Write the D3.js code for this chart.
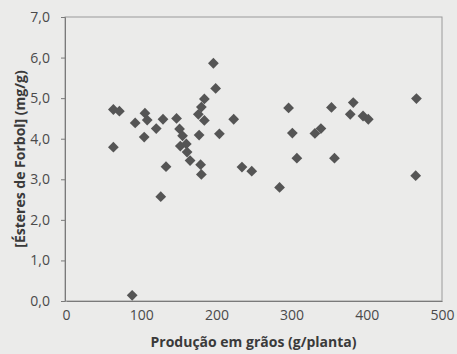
<!DOCTYPE html>
<html><head><meta charset="utf-8">
<script src="https://cdn.jsdelivr.net/npm/d3@7"></script>
<style>
html,body{margin:0;padding:0;background:#ebebea;}
svg{display:block;}
</style></head>
<body>
<svg id="c" width="457" height="354"></svg>
<script>
// Data
const producao = [63,71,63,92,105,108,104,120,129,133,147,151,155,152,160,161,165,179,180,177,176,180,184,184,199,196,204,223,234,247,284,296,301,307,331,339,353,357,378,382,395,402,466,465,126,88];
const esteres  = [4.72,4.68,3.79,4.39,4.63,4.46,4.04,4.25,4.48,3.31,4.50,4.24,4.07,3.82,3.87,3.67,3.46,3.36,3.12,4.09,4.60,4.78,4.98,4.45,5.24,5.86,4.12,4.48,3.30,3.20,2.80,4.76,4.14,3.52,4.13,4.25,4.77,3.52,4.60,4.89,4.56,4.48,4.99,3.09,2.57,0.14];
const xTicks = [0,100,200,300,400,500];
const yTicks = [0,1,2,3,4,5,6,7];
const xTitle = "Produção em grãos (g/planta)";
const yTitle = "[Ésteres de Forbol] (mg/g)";

const svg = d3.select("#c");
const L = 65, R = 442, T = 17, B = 301;
const x = d3.scaleLinear().domain([0,500]).range([L+1, R]);
const y = d3.scaleLinear().domain([0,7]).range([B, T]);
const font = "'Open Sans', 'DejaVu Sans', sans-serif";
const textCol = "#4a4a4a";

// plot border
svg.append("rect").attr("x",L).attr("y",T).attr("width",R-L).attr("height",B-T)
  .attr("fill","none").attr("stroke","#9a9a9a").attr("stroke-width",1);

// y axis
const ya = svg.append("g").attr("transform",`translate(${L},0)`)
  .call(d3.axisLeft(y).tickValues(yTicks).tickSize(4).tickPadding(11)
    .tickFormat(d => d3.format(".1f")(d).replace(".", ",")));
ya.select(".domain").attr("stroke","#7a7a7a");
ya.selectAll(".tick line").attr("stroke","#7a7a7a");
ya.selectAll("text").attr("fill",textCol).style("font-family",font).style("font-size","14px");

// x axis
const xa = svg.append("g").attr("transform",`translate(0,${B})`)
  .call(d3.axisBottom(x).tickValues(xTicks).tickSize(0).tickPadding(9).tickFormat(d3.format("d")));
xa.select(".domain").attr("stroke","#7a7a7a");
xa.selectAll("text").attr("fill",textCol).style("font-family",font).style("font-size","14px");

// titles
svg.append("text").attr("x",(L+R)/2 + 0).attr("y",347).attr("text-anchor","middle")
  .attr("fill","#3a3a3a").style("font-family",font).style("font-size","14px").style("font-weight","bold")
  .text(xTitle);
svg.append("text").attr("transform",`translate(25,${(T+B)/2}) rotate(-90)`).attr("text-anchor","middle")
  .attr("fill","#3a3a3a").style("font-family",font).style("font-size","14px").style("font-weight","bold")
  .text(yTitle);

// points
const sym = d3.symbol().type(d3.symbolSquare).size(58);
svg.append("g").selectAll("path").data(producao.map((v,i)=>[v,esteres[i]])).join("path")
  .attr("d", sym)
  .attr("transform", d => `translate(${x(d[0])},${y(d[1])}) rotate(45)`)
  .attr("fill","#555555");
</script>
</body></html>
